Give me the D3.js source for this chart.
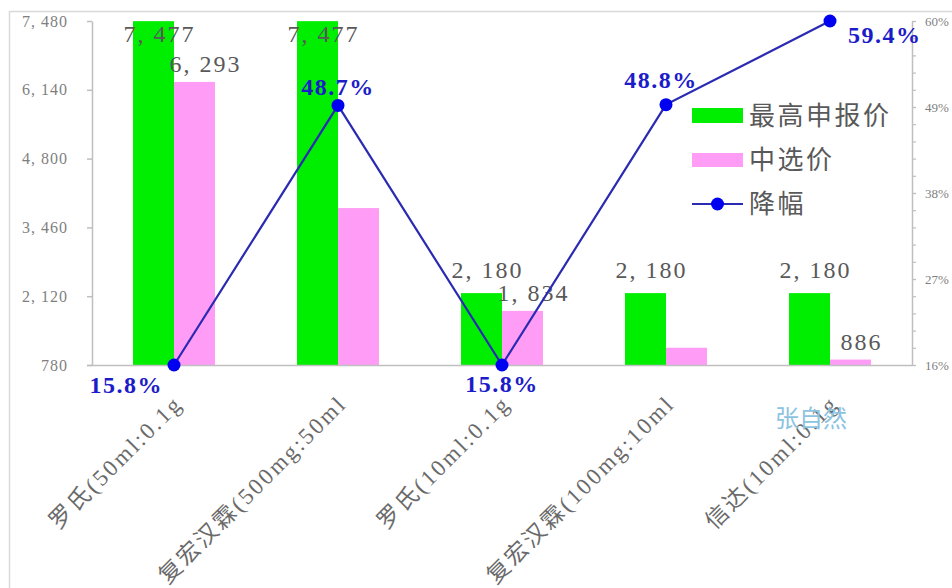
<!DOCTYPE html>
<html><head><meta charset="utf-8">
<script src="https://cdn.jsdelivr.net/npm/d3@7"></script>
<style>
html,body{margin:0;padding:0;background:#fff;}
svg{display:block;}
</style></head>
<body>
<script>
// ---------------- data ----------------
const categories = ["罗氏(50ml:0.1g", "复宏汉霖(500mg:50ml", "罗氏(10ml:0.1g", "复宏汉霖(100mg:10ml", "信达(10ml:0.1g"];
const maxPrice = [7477, 7477, 2180, 2180, 2180];      // 最高申报价
const winPrice = [6293, 3836, 1834, 1116, 886];       // 中选价
const dropRate = [0.158, 0.487, 0.158, 0.488, 0.594]; // 降幅
const winLabelShown = [true, false, true, false, true];
const leftTicks = [780, 2120, 3460, 4800, 6140, 7480];
const rightTickLabels = ["16%", "27%", "38%", "49%", "60%"];
const seriesNames = ["最高申报价", "中选价", "降幅"];
const watermark = "张自然";

// ---------------- layout / style ----------------
const W = 952, H = 588;
const L = 92, R = 912, T = 21, B = 365;
const GREEN = "#00ee00", PINK = "#ff9cf5", LINE = "#2a2ab2", DOT = "#0000f0", PCT = "#1c1cc8";
const GRAY_TXT = "#595959", AXIS = "#bfbfbf";
const LAT = "'Liberation Serif','DejaVu Serif',serif";
const CJK = "'Liberation Serif','Noto Sans CJK SC',sans-serif";
// percent label placement (style only): [dx, dy, anchor]
const pctPlace = [[-11, 28, "end"], [0, -10, "middle"], [0, 27, "middle"], [-5, -17, "middle"], [18, 22, "start"]];

const fmt = d => d3.format(",")(d).replace(/,/g, ", ");
const fmtPct = d => d3.format(".1%")(d);

const svg = d3.select("body").append("svg").attr("width", W).attr("height", H);
svg.append("rect").attr("width", W).attr("height", H).attr("fill", "#fff");
// outer chart border
svg.append("rect").attr("x", 9.5).attr("y", 11.5).attr("width", W + 20).attr("height", H + 20)
  .attr("fill", "none").attr("stroke", "#d9d9d9").attr("stroke-width", 1.5);

const x = d3.scaleBand().domain(categories).range([L, R]).paddingInner(0.5).paddingOuter(0.25);
const xs = d3.scaleBand().domain(["max", "win"]).range([0, x.bandwidth()]);
const yL = d3.scaleLinear().domain([780, 7480]).range([B, T]);
const yR = d3.scaleLinear().domain([0.158, 0.594]).range([B, T]);
const rightTickVals = d3.range(rightTickLabels.length).map(i => yR.domain()[0] + i * (yR.domain()[1] - yR.domain()[0]) / (rightTickLabels.length - 1));
const rightMinorVals = d3.range(21).map(i => yR.domain()[0] + i * (yR.domain()[1] - yR.domain()[0]) / 20);

// ---- bars ----
const g = svg.append("g");
g.selectAll("rect.max").data(maxPrice).join("rect").attr("class", "max")
  .attr("x", (d, i) => x(categories[i]) + xs("max")).attr("width", xs.bandwidth())
  .attr("y", d => yL(d)).attr("height", d => yL(780) - yL(d)).attr("fill", GREEN);
g.selectAll("rect.win").data(winPrice).join("rect").attr("class", "win")
  .attr("x", (d, i) => x(categories[i]) + xs("win")).attr("width", xs.bandwidth())
  .attr("y", d => yL(d)).attr("height", d => yL(780) - yL(d)).attr("fill", PINK);

// ---- axes ----
const axL = svg.append("g").attr("transform", `translate(${L},0)`)
  .call(d3.axisLeft(yL).tickValues(leftTicks).tickFormat(fmt).tickSize(5).tickSizeOuter(0).tickPadding(19));
axL.select(".domain").attr("stroke", AXIS).attr("stroke-width", 1.5);
axL.selectAll(".tick line").attr("stroke", AXIS).attr("stroke-width", 1.5);
axL.selectAll(".tick text").attr("font-family", LAT).attr("font-size", 16).attr("letter-spacing", 1)
  .attr("fill", "#7f7f7f");

const axRm = svg.append("g").attr("transform", `translate(${R},0)`)
  .call(d3.axisRight(yR).tickValues(rightMinorVals).tickFormat("").tickSize(4).tickSizeOuter(0));
axRm.select(".domain").attr("stroke", AXIS).attr("stroke-width", 1.5);
axRm.selectAll(".tick line").attr("stroke", AXIS).attr("stroke-width", 1.2);
const axR = svg.append("g").attr("transform", `translate(${R},0)`)
  .call(d3.axisRight(yR).tickValues(rightTickVals).tickFormat((d, i) => rightTickLabels[i]).tickSize(4).tickSizeOuter(0).tickPadding(9));
axR.select(".domain").remove();
axR.selectAll(".tick line").attr("stroke", AXIS).attr("stroke-width", 1.2);
axR.selectAll(".tick text").attr("font-family", LAT).attr("font-size", 13).attr("fill", "#7f7f7f");

const axB = svg.append("g").attr("transform", `translate(0,${B})`)
  .call(d3.axisBottom(x).tickSize(0).tickSizeOuter(0));
axB.select(".domain").attr("stroke", AXIS).attr("stroke-width", 1.5).attr("d", `M${L - 5},0.5H${R}`);
axB.selectAll(".tick text").attr("font-family", CJK).attr("font-size", 23).attr("letter-spacing", 2.5)
  .attr("fill", "#6a6a6a").attr("text-anchor", "end").attr("x", 0).attr("y", 0).attr("dy", 0)
  .attr("transform", "translate(10,40) rotate(-45)");

// ---- value labels ----
g.selectAll("text.maxl").data(maxPrice).join("text").attr("class", "maxl")
  .attr("x", (d, i) => x(categories[i]) + xs("max") + xs.bandwidth() / 2 + 6)
  .attr("y", d => Math.max(yL(d) - 15, T + 21))
  .attr("text-anchor", "middle").attr("font-family", LAT).attr("font-size", 24).attr("letter-spacing", 2)
  .attr("fill", GRAY_TXT).text(fmt);
g.selectAll("text.winl").data(winPrice.filter((d, i) => winLabelShown[i]).map(d => [d, winPrice.indexOf(d)]))
  .join("text").attr("class", "winl")
  .attr("x", d => x(categories[d[1]]) + xs("win") + xs.bandwidth() / 2 + 11)
  .attr("y", d => yL(d[0]) - 10)
  .attr("text-anchor", "middle").attr("font-family", LAT).attr("font-size", 24).attr("letter-spacing", 2)
  .attr("fill", GRAY_TXT).text(d => fmt(d[0]));

// ---- line ----
const cx = i => x(categories[i]) + x.bandwidth() / 2;
const line = d3.line().x((d, i) => cx(i)).y(d => yR(d));
svg.append("path").datum(dropRate).attr("d", line).attr("fill", "none").attr("stroke", LINE).attr("stroke-width", 2.2);
svg.selectAll("circle.pt").data(dropRate).join("circle").attr("class", "pt")
  .attr("cx", (d, i) => cx(i)).attr("cy", d => yR(d)).attr("r", 6.5).attr("fill", DOT);
svg.selectAll("text.pct").data(dropRate).join("text").attr("class", "pct")
  .attr("x", (d, i) => cx(i) + pctPlace[i][0]).attr("y", (d, i) => yR(d) + pctPlace[i][1])
  .attr("text-anchor", (d, i) => pctPlace[i][2])
  .attr("font-family", LAT).attr("font-weight", "bold").attr("font-size", 24).attr("letter-spacing", 1.5)
  .attr("fill", PCT).text(fmtPct);

// ---- legend ----
const lg = svg.append("g").attr("transform", "translate(692,0)");
const rows = [116, 160, 204];
lg.append("rect").attr("x", 0).attr("y", rows[0] - 8).attr("width", 51).attr("height", 15).attr("fill", GREEN);
lg.append("rect").attr("x", 0).attr("y", rows[1] - 7).attr("width", 51).attr("height", 14).attr("fill", PINK);
lg.append("line").attr("x1", 0).attr("x2", 51).attr("y1", rows[2]).attr("y2", rows[2]).attr("stroke", LINE).attr("stroke-width", 2.2);
lg.append("circle").attr("cx", 25.5).attr("cy", rows[2]).attr("r", 6.5).attr("fill", DOT);
lg.selectAll("text").data(seriesNames).join("text")
  .attr("x", 57).attr("y", (d, i) => rows[i]).attr("dy", "0.36em")
  .attr("font-family", "'Noto Sans CJK SC',sans-serif").attr("font-size", 26).attr("letter-spacing", 2.5)
  .attr("fill", GRAY_TXT).text(d => d);

// ---- watermark ----
svg.append("text").attr("x", 775).attr("y", 427).attr("font-family", "'Noto Sans CJK SC',sans-serif")
  .attr("font-size", 24).attr("fill", "#8cc3df").text(watermark);
</script>
</body></html>
